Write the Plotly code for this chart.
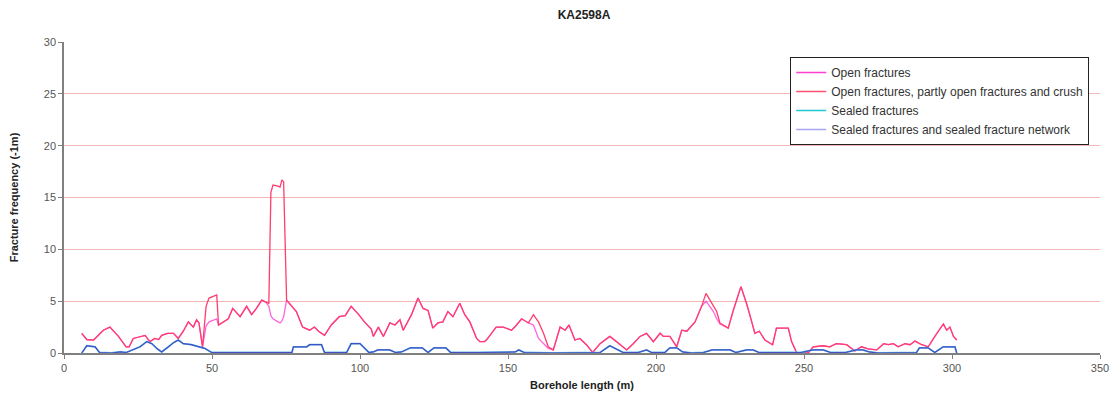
import plotly.graph_objects as go

# Borehole length (m) sample points for the open-fracture series
open_x = [6, 7.7, 10, 13.3, 15.5, 18.4, 21, 22, 23.4, 25.7, 27.4, 29, 30.7, 32, 33, 35, 37, 38.6,
          40.3, 42, 43.7, 44.8, 45.6, 46.8, 48, 49, 51.6, 52.2, 54, 55.5, 57, 59.5, 61.7, 63.4, 65,
          66.8, 68.2, 69.2, 69.9, 70.6, 72.3, 73, 73.6, 74.2, 75.2, 77.5, 78.5, 80.6, 83, 84.6, 86,
          88, 90.3, 93, 95, 97, 99.3, 101.5, 103.8, 104.5, 106.2, 107.9, 110.1, 111.8, 113.5, 114.6,
          117.4, 119.6, 121.3, 123, 124.6, 126.3, 128, 129.7, 131.4, 133.7, 135.4, 137.1, 139.4,
          140.5, 142, 142.7, 146, 148.4, 151.2, 152.9, 154.6, 156.9, 158.6, 160.3, 162, 163.6,
          165.3, 167.6, 169.3, 170.6, 172.6, 174.3, 176.5, 178.6, 181.1, 184.4, 186.7, 190.1,
          192.3, 194.6, 196.8, 199.1, 201.4, 202.5, 204.7, 207, 208.7, 210.4, 213.2, 215.4, 216.9,
          219.4, 220.5, 221.6, 224.4, 226.1, 228.7, 230.6, 231.7, 233.4, 234.9, 236.8, 239.4,
          240.7, 244.7, 245.8, 247.5, 251.4, 253.1, 256.5, 258.7, 260.9, 264.4, 267.2, 269.4,
          271.6, 274.6, 276.9, 278.5, 280.2, 281.8, 284.1, 285.8, 287.5, 289.8, 292, 293.7, 295.4,
          297.1, 298.2, 299.3, 300.5, 301.6]

# Open fractures, partly open fractures and crush
open_crush = [1.9, 1.3, 1.25, 2.2, 2.5, 1.6, 0.6, 0.6, 1.4, 1.6, 1.7, 1.1, 1.4, 1.3, 1.7, 1.9, 1.9, 1.4,
              2.1, 3.0, 2.5, 3.2, 2.9, 0.6, 4.5, 5.3, 5.6, 2.7, 3.0, 3.3, 4.3, 3.5, 4.5, 3.7, 4.3,
              5.1, 4.9, 4.8, 15.5, 16.2, 16.1, 16.0, 16.7, 16.5, 5.1, 4.3, 4.0, 2.5, 2.2, 2.5, 2.1,
              1.7, 2.7, 3.5, 3.6, 4.5, 3.8, 3.0, 2.3, 1.6, 2.5, 1.6, 2.9, 2.7, 3.2, 2.2,
              3.7, 5.3, 4.3, 4.1, 2.4, 2.9, 3.0, 4.0, 3.5, 4.8, 3.7, 3.0, 1.4,
              1.1, 1.1, 1.25, 2.5, 2.5, 2.2, 2.7, 3.3, 2.9, 3.7, 3.0, 1.9, 0.6,
              0.3, 2.5, 2.2, 2.7, 1.25, 1.4, 0.8, 0.05, 0.9, 1.6, 1.1, 0.3,
              0.9, 1.6, 1.9, 1.1, 1.9, 1.6, 1.6, 0.6, 2.2, 2.1, 3.0, 4.5, 5.75,
              4.6, 4.0, 2.9, 2.4, 4.1, 6.4, 4.8, 3.7, 1.9, 2.1, 1.25, 0.8,
              2.4, 2.4, 1.1, 0.05, 0.0, 0.6, 0.7, 0.6, 0.9, 0.8, 0.2, 0.6,
              0.4, 0.3, 0.9, 0.8, 0.9, 0.6, 0.9, 0.8, 1.15, 0.8, 0.6, 1.4, 2.1,
              2.8, 2.2, 2.5, 1.6, 1.25]

# Open fractures
open_only = [1.9, 1.3, 1.25, 2.2, 2.5, 1.6, 0.6, 0.6, 1.4, 1.6, 1.7, 1.1, 1.4, 1.3, 1.7, 1.9, 1.9, 1.4,
             2.1, 3.0, 2.5, 3.2, 2.9, 0.6, 2.6, 3.0, 3.3, 2.7, 3.0, 3.3, 4.3, 3.5, 4.5, 3.7, 4.3,
             5.1, 4.9, 4.5, 3.6, 3.3, 3.0, 2.9, 3.1, 3.5, 5.1, 4.3, 4.0, 2.5, 2.2, 2.5, 2.1,
             1.7, 2.7, 3.5, 3.6, 4.5, 3.8, 3.0, 2.3, 1.6, 2.5, 1.6, 2.9, 2.7, 3.2, 2.2,
             3.7, 5.3, 4.3, 4.1, 2.4, 2.9, 3.0, 4.0, 3.5, 4.8, 3.7, 3.0, 1.4,
             1.1, 1.1, 1.25, 2.5, 2.5, 2.2, 2.7, 3.3, 2.9, 2.7, 1.4, 0.9, 0.45,
             0.3, 2.5, 2.2, 2.7, 1.25, 1.4, 0.8, 0.05, 0.9, 1.6, 1.1, 0.3,
             0.9, 1.6, 1.9, 1.1, 1.9, 1.6, 1.6, 0.6, 2.2, 2.1, 3.0, 4.5, 5.0,
             4.0, 3.3, 2.8, 2.4, 4.1, 6.4, 4.8, 3.7, 1.9, 2.1, 1.25, 0.8,
             2.4, 2.4, 1.1, 0.05, 0.0, 0.6, 0.7, 0.6, 0.9, 0.8, 0.2, 0.6,
             0.4, 0.3, 0.9, 0.8, 0.9, 0.6, 0.9, 0.8, 1.15, 0.8, 0.6, 1.4, 2.1,
             2.8, 2.2, 2.5, 1.6, 1.25]

# Sealed fracture series sample points
sealed_x = [6, 7.7, 10.5, 12, 16, 19, 21, 23, 25.7, 28, 29.7, 31.5, 33, 35.3, 37, 38.6, 40.3, 43,
            45.9, 47.5, 49.9, 55, 60, 65, 70, 77, 77.5, 82, 83, 87, 88, 95.5, 97, 100, 103, 104.5,
            106, 110, 112, 114, 117, 121, 123, 125, 129, 130.6, 140, 150, 152.5, 153.6, 155.5, 165,
            175, 181.1, 184.4, 188.9, 194, 196.8, 198.5, 203, 204.7, 207, 209, 212, 216, 219, 222,
            225, 227, 230.6, 232.8, 234.8, 240, 245, 249, 253, 256.5, 259, 264, 267.6, 269.9, 272,
            275, 288, 289, 291.9, 294.2, 297, 301, 301.6]

sealed = [0.0, 0.7, 0.6, 0.05, 0.0, 0.1, 0.05, 0.3, 0.6, 1.1, 0.9, 0.4, 0.1, 0.6, 1.0, 1.25, 0.9, 0.8,
          0.6, 0.45, 0.05, 0.05, 0.0, 0.05, 0.0, 0.05, 0.6, 0.6, 0.8, 0.8, 0.05, 0.05, 0.9, 0.9, 0.05, 0.1,
          0.3, 0.3, 0.05, 0.1, 0.5, 0.5, 0.05, 0.5, 0.5, 0.05, 0.05, 0.05, 0.1, 0.3, 0.05, 0.0,
          0.05, 0.05, 0.7, 0.05, 0.05, 0.3, 0.05, 0.05, 0.5, 0.5, 0.1, 0.0, 0.05, 0.3, 0.3,
          0.3, 0.05, 0.3, 0.3, 0.05, 0.05, 0.05, 0.05, 0.3, 0.3, 0.05, 0.05, 0.3, 0.3, 0.1,
          0.0, 0.05, 0.5, 0.5, 0.05, 0.6, 0.6, 0.0]

sealed_network = list(sealed)

names = ["Open fractures",
         "Open fractures, partly open fractures and crush",
         "Sealed fractures",
         "Sealed fractures and sealed fracture network"]
legend_colors = ["#FF40D0", "#FF5070", "#20C8D0", "#A8A8F0"]

FONT = "Liberation Sans, Arial, sans-serif"

fig = go.Figure()
# data traces
fig.add_trace(go.Scatter(x=open_x, y=open_only, mode="lines", showlegend=False,
                         line=dict(color="#FF66DD", width=1.3), hoverinfo="skip"))
fig.add_trace(go.Scatter(x=open_x, y=open_crush, mode="lines", showlegend=False,
                         line=dict(color="#FF3D6E", width=1.3), hoverinfo="skip"))
fig.add_trace(go.Scatter(x=sealed_x, y=sealed, mode="lines", showlegend=False,
                         line=dict(color="#5FB8E8", width=1.8), hoverinfo="skip"))
fig.add_trace(go.Scatter(x=sealed_x, y=sealed_network, mode="lines", showlegend=False,
                         line=dict(color="#4050C4", width=1.2), hoverinfo="skip"))
# legend entries
for n, c in zip(names, legend_colors):
    fig.add_trace(go.Scatter(x=[None], y=[None], mode="lines", name=n,
                             line=dict(color=c, width=1.5)))

# the page body adds an 8px offset, so the figure is sized to fill the rest of the window
fig.update_layout(
    width=1112, height=405,
    margin=dict(l=56, r=20, t=34, b=60),
    paper_bgcolor="white", plot_bgcolor="white",
    font=dict(family=FONT, size=11, color="#333333"),
    title=dict(text="<b>KA2598A</b>", x=0.518, xanchor="center", y=0.983, yanchor="middle",
               font=dict(family=FONT, size=12, color="#222222")),
    xaxis=dict(range=[0, 350], dtick=50, tick0=0, showgrid=False, zeroline=False,
               automargin=False,
               showline=True, linecolor="#808080", linewidth=1.5, ticks="outside",
               ticklen=4, tickcolor="#808080",
               tickfont=dict(family=FONT, size=11, color="#555555"),
               title=dict(text="<b>Borehole length (m)</b>", standoff=8,
                          font=dict(family=FONT, size=11, color="#222222"))),
    yaxis=dict(range=[0, 30], dtick=5, tick0=0, showgrid=True, gridcolor="#F2B8B8",
               gridwidth=1, zeroline=False, automargin=False,
               showline=True, linecolor="#808080", linewidth=1.5, ticks="outside",
               ticklen=4, tickcolor="#808080",
               tickfont=dict(family=FONT, size=11, color="#555555"),
               title=dict(text="<b>Fracture frequency (-1m)</b>", standoff=23,
                          font=dict(family=FONT, size=11, color="#222222"))),
    legend=dict(x=0.701, y=0.952, xanchor="left", yanchor="top",
                bgcolor="white", bordercolor="#222222", borderwidth=1,
                font=dict(family=FONT, size=12, color="#333333"),
                tracegroupgap=0, itemwidth=30),
)

fig.write_html("out.html")
